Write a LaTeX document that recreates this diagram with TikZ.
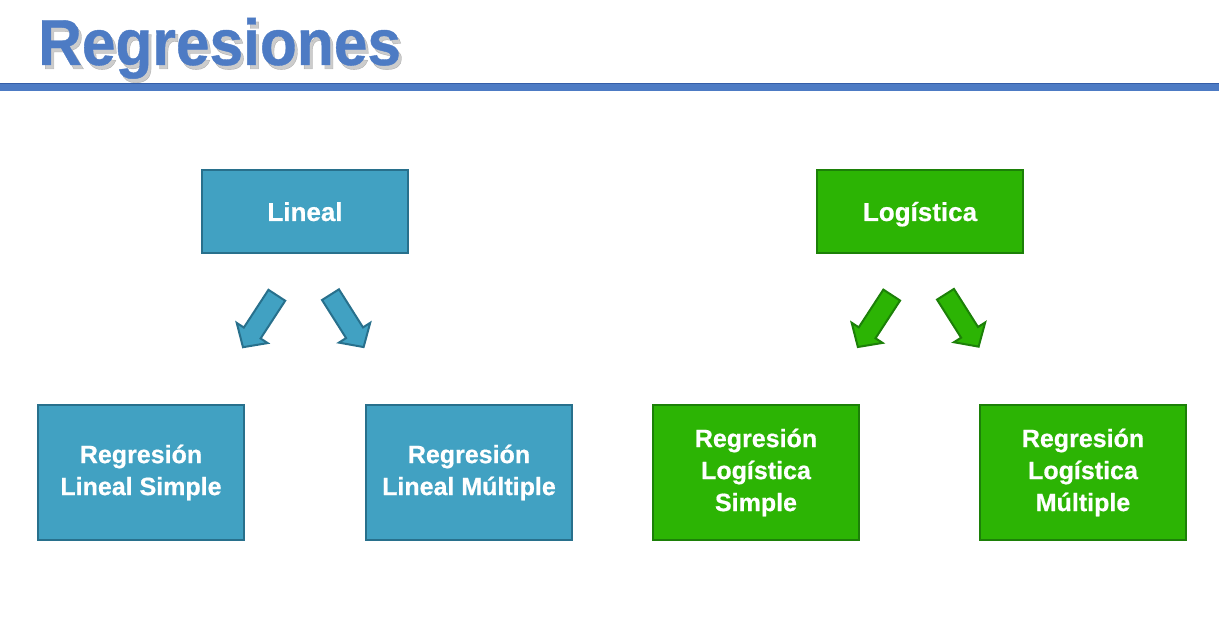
\documentclass[tikz,border=0pt]{standalone}
\usepackage{fontspec}
\setmainfont{Liberation Sans}[BoldFeatures={FakeBold=0.6}]
\usetikzlibrary{shapes.arrows}
\definecolor{myblue}{RGB}{65,161,194}
\definecolor{myblueline}{RGB}{40,112,140}
\definecolor{mygreen}{RGB}{44,180,4}
\definecolor{mygreenline}{RGB}{28,128,8}
\definecolor{mytitle}{RGB}{77,123,196}
\definecolor{myrule}{RGB}{52,94,168}

\begin{document}
\begin{tikzpicture}[x=1pt,y=-1pt,
  every node/.style={font=\bfseries,text=white,align=center,inner sep=0pt},
  topbox/.style={line width=2pt,minimum width=206pt,minimum height=83pt,
    text height=22pt,text depth=3pt,
    font=\bfseries\fontsize{26}{32}\selectfont},
  subbox/.style={line width=2pt,minimum width=206pt,minimum height=135pt,
    execute at begin node=\rule{0pt}{34pt},
    font=\bfseries\fontsize{25}{32}\selectfont},
  bluebox/.style={draw=myblueline,fill=myblue},
  greenbox/.style={draw=mygreenline,fill=mygreen},
  blockarrow/.style={single arrow,line width=2pt,minimum height=62pt,
    text height=9pt,text depth=9pt,single arrow head extend=8.5pt,
    single arrow tip angle=95}
]
\useasboundingbox (0,0) rectangle (1219,617);

% the title
\node[anchor=base west,text=black,opacity=0.2,
  font=\bfseries\fontsize{65}{70}\selectfont] (titleshadow) at (41,69)
  {\scalebox{0.93}[1]{Regresiones}};
\node[anchor=base west,text=mytitle,
  font=\bfseries\fontsize{65}{70}\selectfont] (title) at (38,65)
  {\scalebox{0.93}[1]{Regresiones}};
\fill[mytitle] (0,83) rectangle (1219,91);
\draw[myrule,line width=1.5pt] (0,83.5) -- (1219,83.5);

% the two kinds
\node[topbox,bluebox] (lin) at (305,211.5) {Lineal};
\node[topbox,greenbox] (log) at (920,211.5) {Logística};

% the sub kinds
\node[subbox,bluebox] (rls) at (141,472.5) {Regresión\\Lineal Simple};
\node[subbox,bluebox] (rlm) at (469,472.5) {Regresión\\Lineal Múltiple};
\node[subbox,greenbox] (rgs) at (756,472.5) {Regresión\\Logística\\Simple};
\node[subbox,greenbox] (rgm) at (1083,472.5) {Regresión\\Logística\\Múltiple};

% the arrows
\node[blockarrow,bluebox,rotate=-123.1] (a1) at (262.4,317.4) {};
\node[blockarrow,bluebox,rotate=-57.7] (a2) at (344.6,317) {};
\node[blockarrow,greenbox,rotate=-123.1] (a3) at (877.3,317.2) {};
\node[blockarrow,greenbox,rotate=-57.7] (a4) at (959.6,316.6) {};
\end{tikzpicture}
\end{document}
